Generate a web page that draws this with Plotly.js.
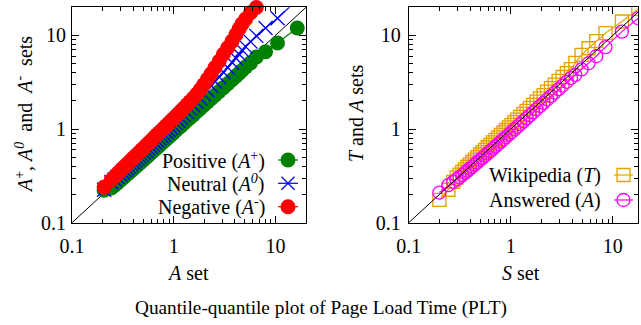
<!DOCTYPE html>
<html>
<head>
<meta charset="utf-8">
<script src="https://cdn.plot.ly/plotly-3.0.1.min.js"></script>
<style>html,body{margin:0;padding:0;background:#fff;}#chart{width:641px;height:325px;}</style>
</head>
<body>
<div id="chart"></div>
<script>
// ---- Left panel: quantiles of A set vs A+, A0, A- ----
const aSet = [0.207,0.243,0.262,0.28,0.297,0.314,0.33,0.347,0.364,0.382,0.4,0.42,0.44,0.462,0.485,0.51,0.536,0.563,0.592,0.622,0.654,0.688,0.724,0.762,0.802,0.845,0.89,0.94,0.99,1.05,1.11,1.18,1.26,1.35,1.45,1.56,1.68,1.82,1.97,2.14,2.33,2.55,2.8,3.08,3.4,3.75,4.1,4.4,4.7,5.1,5.7,6.5,8.0,10.5,16.4];
const positive = [0.222,0.235,0.25,0.266,0.282,0.297,0.312,0.327,0.343,0.359,0.375,0.393,0.411,0.431,0.452,0.474,0.498,0.523,0.549,0.577,0.606,0.637,0.67,0.705,0.741,0.78,0.82,0.866,0.911,0.965,1.02,1.083,1.155,1.235,1.325,1.42,1.53,1.655,1.785,1.94,2.11,2.3,2.52,2.77,3.05,3.37,3.68,3.95,4.22,4.6,5.1,5.9,6.7,8.3,12.0];
const neutral = [0.225,0.27,0.29,0.31,0.328,0.346,0.363,0.382,0.4,0.42,0.44,0.462,0.484,0.508,0.534,0.561,0.589,0.618,0.65,0.683,0.718,0.756,0.796,0.838,0.882,0.929,0.978,1.033,1.088,1.158,1.23,1.315,1.41,1.52,1.645,1.79,1.95,2.14,2.35,2.6,2.9,3.22,3.6,4.05,4.55,5.15,5.7,6.3,7.0,7.6,8.6,9.9,12.0,15.3,24];
const negative = [0.24,0.286,0.31,0.333,0.356,0.378,0.398,0.42,0.442,0.466,0.49,0.515,0.541,0.57,0.6,0.633,0.667,0.702,0.74,0.782,0.826,0.872,0.92,0.972,1.025,1.085,1.145,1.215,1.285,1.37,1.455,1.56,1.68,1.815,1.97,2.15,2.36,2.63,2.98,3.4,3.9,4.55,5.3,6.3,7.4,8.7,10.2,11.8,13.3,15.0,17.5,19.9,null,null,null];

// ---- Right panel: quantiles of S set vs T, A ----
const sSet = [0.2,0.245,0.273,0.295,0.315,0.335,0.355,0.376,0.398,0.42,0.445,0.47,0.5,0.53,0.56,0.595,0.63,0.67,0.71,0.755,0.8,0.85,0.9,0.96,1.02,1.09,1.16,1.24,1.33,1.43,1.54,1.66,1.79,1.94,2.1,2.28,2.48,2.7,2.95,3.23,3.55,3.9,4.3,4.95,5.8,6.9,8.5,12.3,17.8];
const wikipedia = [0.175,0.225,0.273,0.303,0.326,0.349,0.372,0.396,0.42,0.445,0.473,0.501,0.535,0.568,0.601,0.64,0.679,0.723,0.767,0.817,0.867,0.922,0.978,1.044,1.11,1.187,1.264,1.352,1.452,1.563,1.685,1.818,1.963,2.13,2.31,2.51,2.74,2.99,3.27,3.6,3.97,4.38,5.1,6.2,7.3,8.7,10.6,14.1,19.2];
const answered = [0.21,0.252,0.273,0.29,0.306,0.323,0.34,0.358,0.378,0.397,0.419,0.441,0.467,0.493,0.519,0.55,0.581,0.617,0.652,0.693,0.733,0.778,0.822,0.876,0.93,0.993,1.056,1.128,1.21,1.3,1.4,1.51,1.628,1.764,1.908,2.07,2.25,2.45,2.67,2.92,3.2,3.51,3.8,4.35,5.05,6.0,7.5,11.0,15.3];

// reference diagonal y = x
const diag = [0.1, 20];

const tickLabels = ['0.1', '1', '10'];
const tickValues = [0.1, 1, 10];

const SERIF = 'Liberation Serif, Times New Roman, serif';
const FS = 20;
const W = 641, H = 325;

const traces = [
  {x: diag, y: diag, xaxis: 'x', yaxis: 'y', mode: 'lines', line: {color: 'black', width: 1}, hoverinfo: 'skip'},
  {x: aSet, y: positive, xaxis: 'x', yaxis: 'y', mode: 'lines+markers', name: 'Positive',
   line: {color: '#008000', width: 1.2}, marker: {color: '#008000', size: 15, symbol: 'circle'}},
  {x: aSet, y: neutral, xaxis: 'x', yaxis: 'y', mode: 'lines+markers', name: 'Neutral',
   line: {color: '#0000ff', width: 1.2}, marker: {color: '#0000ff', size: 14, symbol: 'x-thin-open', line: {color: '#0000ff', width: 1.3}}},
  {x: aSet, y: negative, xaxis: 'x', yaxis: 'y', mode: 'lines+markers', name: 'Negative', cliponaxis: false,
   line: {color: '#ff0000', width: 1.2}, marker: {color: '#ff0000', size: 15, symbol: 'circle'}},
  {x: sSet, y: wikipedia, xaxis: 'x2', yaxis: 'y2', mode: 'lines+markers', name: 'Wikipedia',
   line: {color: '#e69f00', width: 1.2}, marker: {color: '#e69f00', size: 13, symbol: 'square-open', line: {color: '#e69f00', width: 1.3}}},
  {x: sSet, y: answered, xaxis: 'x2', yaxis: 'y2', mode: 'lines+markers', name: 'Answered',
   line: {color: '#ff00ff', width: 1.2}, marker: {color: '#ff00ff', size: 13, symbol: 'circle-open', line: {color: '#ff00ff', width: 1.3}}},
  {x: diag, y: diag, xaxis: 'x2', yaxis: 'y2', mode: 'lines', line: {color: 'black', width: 1}, hoverinfo: 'skip'}
];

function logAxis(domain, maxVal, standoff) {
  return {
    type: 'log', domain: domain, range: [-1, Math.log10(maxVal)],
    showline: true, linecolor: 'black', linewidth: 1, mirror: 'allticks',
    ticks: 'inside', ticklen: 7, tickwidth: 1, tickcolor: 'black',
    tickmode: 'array', tickvals: tickValues, ticktext: tickLabels,
    ticklabelstandoff: standoff,
    showgrid: false, zeroline: false,
    tickfont: {family: SERIF, size: FS, color: 'black'},
    minor: {ticks: 'inside', ticklen: 4, tickwidth: 1, tickcolor: 'black', dtick: 'D1', showgrid: false},
    fixedrange: true
  };
}

const px = v => v / W;
const py = v => 1 - v / H;

const yDom = [py(222.7), py(7.3)];
const layout = {
  width: W, height: H,
  margin: {l: 0, r: 0, t: 0, b: 0},
  paper_bgcolor: 'white', plot_bgcolor: 'white',
  showlegend: false,
  font: {family: SERIF, size: FS, color: 'black'},
  xaxis: Object.assign(logAxis([px(72), px(306)], 20, 5), {anchor: 'y'}),
  yaxis: Object.assign(logAxis(yDom, 20, 1), {anchor: 'x'}),
  xaxis2: Object.assign(logAxis([px(408.7), px(638)], 17.7, 5), {anchor: 'y2'}),
  yaxis2: Object.assign(logAxis(yDom, 20, 3), {anchor: 'x2'}),
  annotations: [],
  shapes: []
};

function ann(text, x, y, opts) {
  layout.annotations.push(Object.assign({
    text: text, xref: 'paper', yref: 'paper', x: px(x), y: py(y),
    xanchor: 'center', yanchor: 'middle', showarrow: false,
    font: {family: SERIF, size: FS, color: 'black'}
  }, opts || {}));
}

// axis titles
ann('<i>A</i> set', 188, 273);
ann('<i>S</i> set', 521, 273);
ann('<i>A</i><sup>+</sup>, <i>A</i><sup><i>0</i></sup>  and  <i>A</i><sup>-</sup>  sets', 24, 115, {textangle: -90});
ann('<i>T</i> and <i>A</i> sets', 356, 114, {textangle: -90});
// overall caption
ann('Quantile-quantile plot of Page Load Time (PLT)', 320.5, 308, {font: {family: SERIF, size: 19.3, color: 'black'}});

// legends (gnuplot style: text right-aligned, sample at right)
function legendEntry(text, textRight, yc, x0, x1, color, kind, size) {
  ann(text, textRight, yc, {xanchor: 'right'});
  layout.shapes.push({type: 'line', xref: 'paper', yref: 'paper', x0: px(x0), x1: px(x1), y0: py(yc), y1: py(yc), line: {color: color, width: 1.2}});
  const xc = (x0 + x1) / 2, r = size / 2;
  if (kind === 'filled') {
    layout.shapes.push({type: 'circle', xref: 'paper', yref: 'paper', x0: px(xc - r), x1: px(xc + r), y0: py(yc + r), y1: py(yc - r), fillcolor: color, line: {color: color, width: 0}});
  } else if (kind === 'open') {
    layout.shapes.push({type: 'circle', xref: 'paper', yref: 'paper', x0: px(xc - r), x1: px(xc + r), y0: py(yc + r), y1: py(yc - r), line: {color: color, width: 1.3}});
  } else if (kind === 'square') {
    layout.shapes.push({type: 'rect', xref: 'paper', yref: 'paper', x0: px(xc - r), x1: px(xc + r), y0: py(yc + r), y1: py(yc - r), line: {color: color, width: 1.3}});
  } else if (kind === 'x') {
    layout.shapes.push({type: 'line', xref: 'paper', yref: 'paper', x0: px(xc - r), x1: px(xc + r), y0: py(yc - r), y1: py(yc + r), line: {color: color, width: 1.3}});
    layout.shapes.push({type: 'line', xref: 'paper', yref: 'paper', x0: px(xc - r), x1: px(xc + r), y0: py(yc + r), y1: py(yc - r), line: {color: color, width: 1.3}});
  }
}
legendEntry('Positive (<i>A</i><sup>+</sup>)', 267, 160, 278, 298, '#008000', 'filled', 15);
legendEntry('Neutral (<i>A</i><sup><i>0</i></sup>)', 267, 183.3, 278, 298, '#0000ff', 'x', 13);
legendEntry('Negative (<i>A</i><sup>-</sup>)', 267, 206.7, 278, 298, '#ff0000', 'filled', 15);
legendEntry('Wikipedia (<i>T</i>)', 603, 175, 614, 633, '#e69f00', 'square', 13);
legendEntry('Answered (<i>A</i>)', 603, 200, 614, 633, '#ff00ff', 'open', 13);

Plotly.newPlot('chart', traces, layout, {staticPlot: true, displayModeBar: false});
</script>
</body>
</html>
